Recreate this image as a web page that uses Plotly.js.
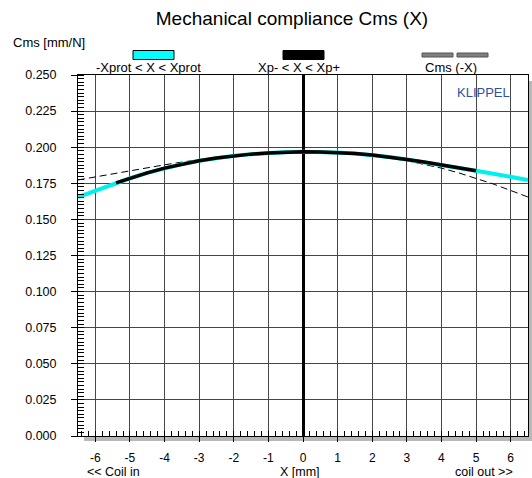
<!DOCTYPE html>
<html>
<head>
<meta charset="utf-8">
<script src="https://cdn.plot.ly/plotly-3.0.1.min.js"></script>
<style>html,body{margin:0;padding:0;background:#fff;}#chart{width:532px;height:478px;}</style>
</head>
<body>
<div id="chart"></div>
<script>
// Displacement X [mm]
var xVals = [-6.5,-6.0,-5.5,-5.0,-4.5,-4.0,-3.5,-3.0,-2.5,-2.0,-1.5,-1.0,-0.5,0.0,0.5,1.0,1.5,2.0,2.5,3.0,3.5,4.0,4.5,5.0,5.5,6.0,6.5];
// Cms(X) [mm/N]  (-Xprot < X < Xprot)
var cmsVals = [0.1655,0.1700,0.1745,0.1785,0.1822,0.1855,0.1883,0.1906,0.1925,0.1940,0.1952,0.1960,0.1966,0.1968,0.1967,0.1963,0.1956,0.1946,0.1932,0.1915,0.1897,0.1878,0.1858,0.1837,0.1816,0.1795,0.1773];
// Xp- < X < Xp+ segment
var xpX = [-5.4,-5.0,-4.5,-4.0,-3.5,-3.0,-2.5,-2.0,-1.5,-1.0,-0.5,0.0,0.5,1.0,1.5,2.0,2.5,3.0,3.5,4.0,4.5,5.0];
var xpCms = [0.1753,0.1785,0.1822,0.1855,0.1883,0.1906,0.1925,0.1940,0.1952,0.1960,0.1966,0.1968,0.1967,0.1963,0.1956,0.1946,0.1932,0.1915,0.1897,0.1878,0.1858,0.1837];
// Cms(-X) mirrored curve
var mirrorCms = [0.1773,0.1795,0.1816,0.1837,0.1858,0.1878,0.1897,0.1915,0.1932,0.1946,0.1956,0.1963,0.1967,0.1968,0.1966,0.1960,0.1952,0.1940,0.1925,0.1906,0.1883,0.1855,0.1822,0.1785,0.1745,0.1700,0.1655];
// Labels
var legendLabels = ['-Xprot < X < Xprot', 'Xp- < X < Xp+', 'Cms (-X)'];
var xTicks = [-6,-5,-4,-3,-2,-1,0,1,2,3,4,5,6];

var FONT = 'Liberation Sans, Arial, sans-serif';

var traces = [
  {x: xVals, y: mirrorCms, mode: 'lines', line: {color: '#000', width: 1, dash: '7px,4px'}, hoverinfo: 'skip'},
  {x: xVals, y: cmsVals, mode: 'lines', line: {color: '#00f0f0', width: 4}, hoverinfo: 'skip'},
  {x: xpX, y: xpCms, mode: 'lines', line: {color: '#000', width: 3.5}, hoverinfo: 'skip'}
];

function px2x(p){ return (p-78)/450; }
function px2y(p){ return (436-p)/361; }

var shapes = [
  // shadow
  {type:'rect', xref:'paper', yref:'paper', x0:px2x(528.5), x1:px2x(534), y0:px2y(441), y1:px2y(81), fillcolor:'#b8b8b8', line:{width:0}, layer:'below'},
  {type:'rect', xref:'paper', yref:'paper', x0:px2x(84), x1:px2x(534), y0:px2y(441), y1:px2y(436.5), fillcolor:'#b8b8b8', line:{width:0}, layer:'below'},
  // legend symbols
  {type:'rect', xref:'paper', yref:'paper', x0:px2x(133), x1:px2x(174), y0:px2y(59.5), y1:px2y(50.5), fillcolor:'#00ffff', line:{color:'#000', width:1}},
  {type:'rect', xref:'paper', yref:'paper', x0:px2x(283), x1:px2x(324), y0:px2y(59.5), y1:px2y(50.5), fillcolor:'#000', line:{color:'#000', width:1}},
  {type:'rect', xref:'paper', yref:'paper', x0:px2x(422), x1:px2x(453), y0:px2y(57), y1:px2y(53), fillcolor:'#808080', line:{color:'#555', width:1}},
  {type:'rect', xref:'paper', yref:'paper', x0:px2x(457), x1:px2x(488), y0:px2y(57), y1:px2y(53), fillcolor:'#808080', line:{color:'#555', width:1}}
];

var annFont = {family: FONT, size: 13, color: '#000'};
var annotations = [
  {text: 'Cms [mm/N]', xref:'paper', yref:'paper', x:px2x(11), y:px2y(43), xanchor:'left', yanchor:'middle', showarrow:false, font:annFont},
  {text: legendLabels[0], xref:'paper', yref:'paper', x:px2x(148), y:px2y(68), xanchor:'center', yanchor:'middle', showarrow:false, font:annFont},
  {text: legendLabels[1], xref:'paper', yref:'paper', x:px2x(299), y:px2y(68), xanchor:'center', yanchor:'middle', showarrow:false, font:annFont},
  {text: legendLabels[2], xref:'paper', yref:'paper', x:px2x(451), y:px2y(68), xanchor:'center', yanchor:'middle', showarrow:false, font:annFont},
  {text: 'KLIPPEL', xref:'paper', yref:'paper', x:px2x(483), y:px2y(92), xanchor:'center', yanchor:'middle', showarrow:false, font:{family: FONT, size: 13, color:'#2f50a8'}},
  {text: '<< Coil in', xref:'paper', yref:'paper', x:px2x(113), y:px2y(472), xanchor:'center', yanchor:'middle', showarrow:false, font:{family: FONT, size: 12.5, color:'#000'}},
  {text: 'X [mm]', xref:'paper', yref:'paper', x:px2x(300), y:px2y(472), xanchor:'center', yanchor:'middle', showarrow:false, font:{family: FONT, size: 12.5, color:'#000'}},
  {text: 'coil out >>', xref:'paper', yref:'paper', x:px2x(484), y:px2y(472), xanchor:'center', yanchor:'middle', showarrow:false, font:{family: FONT, size: 12.5, color:'#000'}}
];

var layout = {
  width: 532, height: 478,
  margin: {l: 78, r: 4, t: 75, b: 42, pad: 0},
  paper_bgcolor: '#fff', plot_bgcolor: '#fff',
  showlegend: false,
  font: {family: FONT, size: 12, color: '#000'},
  title: {text: 'Mechanical compliance Cms (X)', x: 292/532, xanchor: 'center', y: 1 - 18/478, yanchor: 'middle', yref: 'container', xref: 'container', font: {family: FONT, size: 19, color: '#000'}},
  xaxis: {
    range: [-6.5, 6.5], tickmode: 'array', tickvals: xTicks, ticktext: xTicks.map(String),
    ticks: 'outside', ticklen: 5, tickcolor: '#000', tickwidth: 1,
    ticklabelstandoff: 6,
    showgrid: true, gridcolor: '#454545', gridwidth: 1,
    zeroline: true, zerolinecolor: '#000', zerolinewidth: 3,
    showline: true, linecolor: '#000', linewidth: 1, mirror: true,
    minor: {dtick: 0.2, tick0: 0, ticks: 'inside', ticklen: 5, tickcolor: '#000', showgrid: false},
    tickfont: {family: FONT, size: 12, color: '#000'},
    fixedrange: true
  },
  yaxis: {
    range: [0, 0.25], dtick: 0.025, tick0: 0, tickformat: '.3f',
    ticks: 'outside', ticklen: 6, tickcolor: '#000', tickwidth: 1,
    ticklabelstandoff: 12,
    showgrid: true, gridcolor: '#454545', gridwidth: 1,
    zeroline: false,
    showline: true, linecolor: '#000', linewidth: 1, mirror: true,
    minor: {dtick: 0.0025, tick0: 0, ticks: 'inside', ticklen: 6, tickcolor: '#000', showgrid: false},
    tickfont: {family: FONT, size: 12.5, color: '#000'},
    fixedrange: true
  },
  shapes: shapes,
  annotations: annotations
};

Plotly.newPlot('chart', traces, layout, {displayModeBar: false, staticPlot: true});
</script>
</body>
</html>
